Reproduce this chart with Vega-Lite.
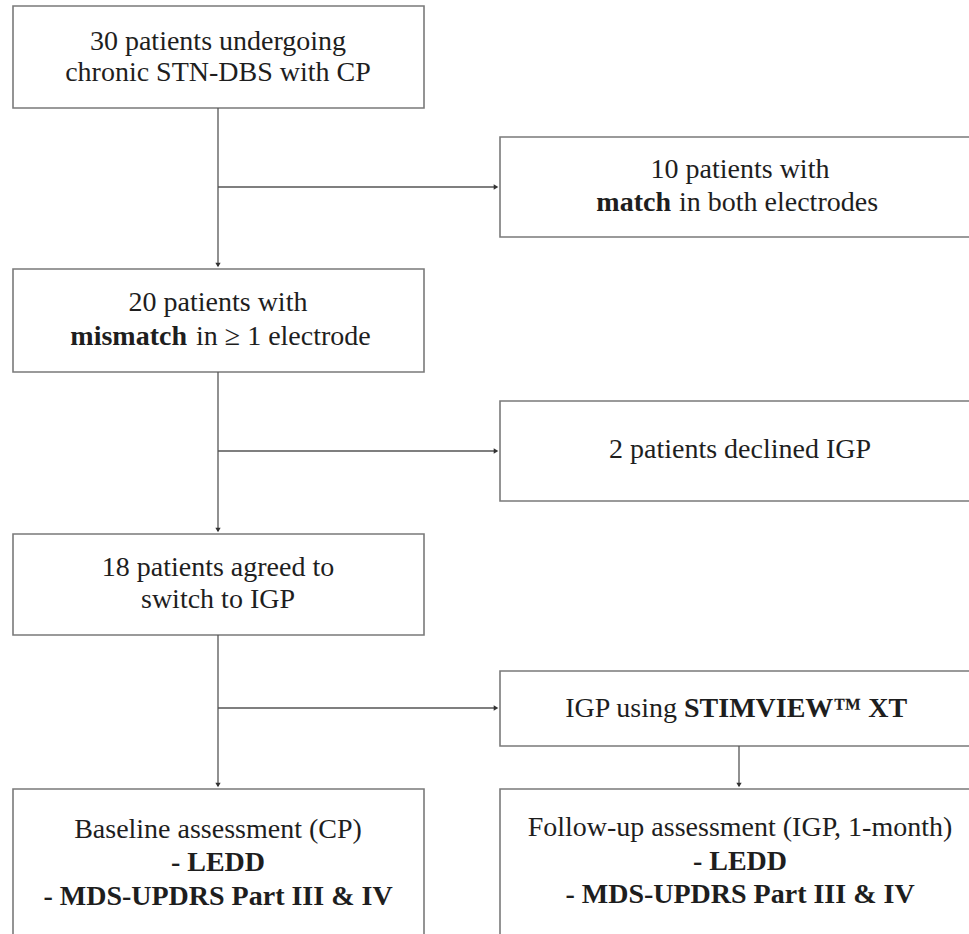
{
  "$schema": "https://vega.github.io/schema/vega-lite/v6.json",
  "width": 969,
  "height": 934,
  "padding": 0,
  "autosize": {"type": "none"},
  "background": "white",
  "config": {"view": {"stroke": null}, "text": {"font": "Times New Roman, Times, Liberation Serif, DejaVu Serif, Noto Serif, serif"}},
  "datasets": {
    "boxes": [
      {"x1": 13, "x2": 424, "y1": 6, "y2": 108},
      {"x1": 500, "x2": 985, "y1": 137, "y2": 237},
      {"x1": 13, "x2": 424, "y1": 269, "y2": 372},
      {"x1": 500, "x2": 985, "y1": 401, "y2": 501},
      {"x1": 13, "x2": 424, "y1": 534, "y2": 635},
      {"x1": 500, "x2": 985, "y1": 671, "y2": 746},
      {"x1": 13, "x2": 424, "y1": 789, "y2": 960},
      {"x1": 500, "x2": 985, "y1": 789, "y2": 960}
    ],
    "links": [
      {"x1": 218, "y1": 108, "x2": 218, "y2": 266},
      {"x1": 218, "y1": 187, "x2": 496, "y2": 187},
      {"x1": 218, "y1": 372, "x2": 218, "y2": 531},
      {"x1": 218, "y1": 451, "x2": 496, "y2": 451},
      {"x1": 218, "y1": 635, "x2": 218, "y2": 786},
      {"x1": 218, "y1": 708, "x2": 496, "y2": 708},
      {"x1": 739, "y1": 746, "x2": 739, "y2": 786}
    ],
    "heads": [
      {"x": 218, "y": 265, "dir": "down"},
      {"x": 218, "y": 530, "dir": "down"},
      {"x": 218, "y": 785, "dir": "down"},
      {"x": 739, "y": 785, "dir": "down"},
      {"x": 496, "y": 187, "dir": "right"},
      {"x": 496, "y": 451, "dir": "right"},
      {"x": 496, "y": 708, "dir": "right"}
    ],
    "labels": [
      {"x": 218, "y": 42, "text": "30 patients undergoing", "align": "center", "weight": "normal"},
      {"x": 218, "y": 73, "text": "chronic STN-DBS with CP", "align": "center", "weight": "normal"},
      {"x": 740, "y": 170, "text": "10 patients with", "align": "center", "weight": "normal"},
      {"x": 671, "y": 203, "text": "match", "align": "right", "weight": "bold"},
      {"x": 679, "y": 203, "text": "in both electrodes", "align": "left", "weight": "normal"},
      {"x": 218, "y": 303, "text": "20 patients with", "align": "center", "weight": "normal"},
      {"x": 187, "y": 337, "text": "mismatch", "align": "right", "weight": "bold"},
      {"x": 196, "y": 337, "text": "in ≥ 1 electrode", "align": "left", "weight": "normal"},
      {"x": 740, "y": 450, "text": "2 patients declined IGP", "align": "center", "weight": "normal"},
      {"x": 218, "y": 568, "text": "18 patients agreed to", "align": "center", "weight": "normal"},
      {"x": 218, "y": 600, "text": "switch to IGP", "align": "center", "weight": "normal"},
      {"x": 677, "y": 709, "text": "IGP using", "align": "right", "weight": "normal"},
      {"x": 684, "y": 709, "text": "STIMVIEW™ XT", "align": "left", "weight": "bold"},
      {"x": 218, "y": 830, "text": "Baseline assessment (CP)", "align": "center", "weight": "normal"},
      {"x": 218, "y": 863, "text": "- LEDD", "align": "center", "weight": "bold"},
      {"x": 218, "y": 897, "text": "- MDS-UPDRS Part III & IV", "align": "center", "weight": "bold"},
      {"x": 740, "y": 828, "text": "Follow-up assessment (IGP,  1-month)", "align": "center", "weight": "normal"},
      {"x": 740, "y": 862, "text": "- LEDD", "align": "center", "weight": "bold"},
      {"x": 740, "y": 895, "text": "- MDS-UPDRS Part III & IV", "align": "center", "weight": "bold"}
    ]
  },
  "layer": [
    {
      "data": {"name": "boxes"},
      "mark": {"type": "rect", "fill": "white", "stroke": "#7a7a7a", "strokeWidth": 1.6, "clip": true},
      "encoding": {
        "x": {"field": "x1", "type": "quantitative", "scale": {"domain": [0, 969], "nice": false, "zero": false}, "axis": null},
        "x2": {"field": "x2"},
        "y": {"field": "y1", "type": "quantitative", "scale": {"domain": [0, 934], "nice": false, "zero": false, "reverse": true}, "axis": null},
        "y2": {"field": "y2"}
      }
    },
    {
      "data": {"name": "links"},
      "mark": {"type": "rule", "color": "#555555", "strokeWidth": 1.3},
      "encoding": {
        "x": {"field": "x1", "type": "quantitative"},
        "x2": {"field": "x2"},
        "y": {"field": "y1", "type": "quantitative"},
        "y2": {"field": "y2"}
      }
    },
    {
      "data": {"name": "heads"},
      "transform": [{"filter": "datum.dir === 'down'"}],
      "mark": {"type": "point", "shape": "triangle-down", "filled": true, "color": "#333333", "size": 28, "opacity": 1},
      "encoding": {
        "x": {"field": "x", "type": "quantitative"},
        "y": {"field": "y", "type": "quantitative"}
      }
    },
    {
      "data": {"name": "heads"},
      "transform": [{"filter": "datum.dir === 'right'"}],
      "mark": {"type": "point", "shape": "triangle-right", "filled": true, "color": "#333333", "size": 28, "opacity": 1},
      "encoding": {
        "x": {"field": "x", "type": "quantitative"},
        "y": {"field": "y", "type": "quantitative"}
      }
    },
    {
      "data": {"name": "labels"},
      "transform": [{"filter": "datum.align === 'center' && datum.weight === 'normal'"}],
      "mark": {"type": "text", "fontSize": 28, "align": "center", "baseline": "middle", "color": "#1e1e1e"},
      "encoding": {
        "x": {"field": "x", "type": "quantitative"},
        "y": {"field": "y", "type": "quantitative"},
        "text": {"field": "text"}
      }
    },
    {
      "data": {"name": "labels"},
      "transform": [{"filter": "datum.align === 'center' && datum.weight === 'bold'"}],
      "mark": {"type": "text", "fontSize": 28, "fontWeight": "bold", "align": "center", "baseline": "middle", "color": "#1e1e1e"},
      "encoding": {
        "x": {"field": "x", "type": "quantitative"},
        "y": {"field": "y", "type": "quantitative"},
        "text": {"field": "text"}
      }
    },
    {
      "data": {"name": "labels"},
      "transform": [{"filter": "datum.align === 'right' && datum.weight === 'bold'"}],
      "mark": {"type": "text", "fontSize": 28, "fontWeight": "bold", "align": "right", "baseline": "middle", "color": "#1e1e1e"},
      "encoding": {
        "x": {"field": "x", "type": "quantitative"},
        "y": {"field": "y", "type": "quantitative"},
        "text": {"field": "text"}
      }
    },
    {
      "data": {"name": "labels"},
      "transform": [{"filter": "datum.align === 'right' && datum.weight === 'normal'"}],
      "mark": {"type": "text", "fontSize": 28, "align": "right", "baseline": "middle", "color": "#1e1e1e"},
      "encoding": {
        "x": {"field": "x", "type": "quantitative"},
        "y": {"field": "y", "type": "quantitative"},
        "text": {"field": "text"}
      }
    },
    {
      "data": {"name": "labels"},
      "transform": [{"filter": "datum.align === 'left' && datum.weight === 'normal'"}],
      "mark": {"type": "text", "fontSize": 28, "align": "left", "baseline": "middle", "color": "#1e1e1e"},
      "encoding": {
        "x": {"field": "x", "type": "quantitative"},
        "y": {"field": "y", "type": "quantitative"},
        "text": {"field": "text"}
      }
    },
    {
      "data": {"name": "labels"},
      "transform": [{"filter": "datum.align === 'left' && datum.weight === 'bold'"}],
      "mark": {"type": "text", "fontSize": 28, "fontWeight": "bold", "align": "left", "baseline": "middle", "color": "#1e1e1e"},
      "encoding": {
        "x": {"field": "x", "type": "quantitative"},
        "y": {"field": "y", "type": "quantitative"},
        "text": {"field": "text"}
      }
    }
  ]
}
